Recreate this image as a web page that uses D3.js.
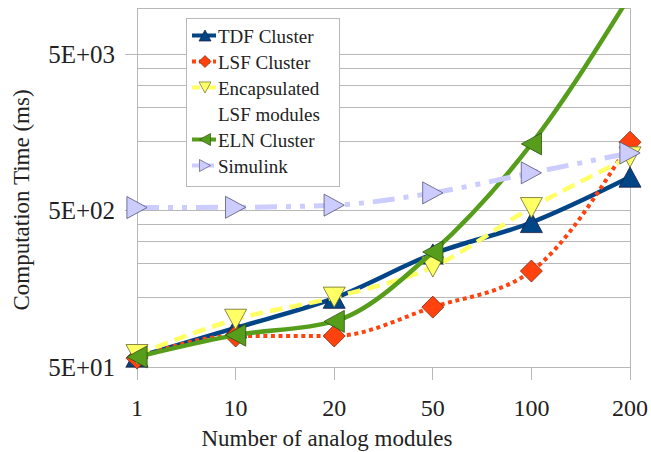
<!DOCTYPE html>
<html>
<head>
<meta charset="utf-8">
<script src="https://cdn.jsdelivr.net/npm/d3@7"></script>
<style>
  body { margin: 0; background: #fff; }
  svg { display: block; }
  text { font-family: "Liberation Serif", "DejaVu Serif", serif; fill: #222; }
</style>
</head>
<body>
<svg id="chart" width="651" height="452"></svg>
<script>
// ---- data ----
const categories = ["1", "10", "20", "50", "100", "200"];
const tdfCluster = [58, 89, 138, 265, 422, 825];
const lsfCluster = [57, 79, 79, 121, 206, 1380];
const encapsulatedLsf = [60, 101, 140, 219, 525, 1110];
const elnCluster = [58, 80, 98, 273, 1346, 12000];
const simulink = [526, 528, 545, 653, 878, 1177];
const seriesNames = ["TDF Cluster", "LSF Cluster", "Encapsulated LSF modules", "ELN Cluster", "Simulink"];
const legendLines = [["TDF Cluster"], ["LSF Cluster"], ["Encapsulated", "LSF modules"], ["ELN Cluster"], ["Simulink"]];
const yMajorTicks = [50, 500, 5000];
const yMinorTicks = [140, 230, 320, 410, 1400, 2300, 3200, 4100];
const yDomain = [50, 10000];

(function () {
const styles = [
  { color: "#004586", dash: null, width: 4.5, marker: "up", stroke: "#1a1a40" },
  { color: "#ff420e", dash: "4,3.6", width: 4, marker: "diamond", stroke: "#7a2a10" },
  { color: "#ffff66", dash: "13,7", width: 4.5, marker: "down", stroke: "#6b6b2a" },
  { color: "#579d1c", dash: null, width: 4.5, marker: "left", stroke: "#2e5010" },
  { color: "#ccccff", dash: "22,9,5,9,5,9", width: 5, marker: "right", stroke: "#55557a" }
];
const values = [tdfCluster, lsfCluster, encapsulatedLsf, elnCluster, simulink];

const svg = d3.select("#chart");
const pL = 137, pR = 630, pT = 8, pB = 367;

const x = d3.scalePoint().domain(categories).range([pL, pR]).padding(0);
const y = d3.scaleLog().domain(yDomain).range([pB, pT]);

const grid = "#b8b8b8";

svg.append("g").selectAll("line").data(yMinorTicks.concat(yMajorTicks)).join("line")
  .attr("x1", pL).attr("x2", pR)
  .attr("y1", d => y(d)).attr("y2", d => y(d))
  .attr("stroke", grid).attr("stroke-width", 1).attr("shape-rendering", "crispEdges");

svg.append("g").selectAll("line").data(yMajorTicks).join("line")
  .attr("x1", pL - 12).attr("x2", pL)
  .attr("y1", d => y(d)).attr("y2", d => y(d))
  .attr("stroke", grid).attr("stroke-width", 1).attr("shape-rendering", "crispEdges");

svg.append("rect").attr("x", pL).attr("y", pT)
  .attr("width", pR - pL).attr("height", pB - pT)
  .attr("fill", "none").attr("stroke", grid).attr("stroke-width", 1).attr("shape-rendering", "crispEdges");

svg.append("g").selectAll("line").data(categories).join("line")
  .attr("x1", d => x(d)).attr("x2", d => x(d))
  .attr("y1", pB).attr("y2", pB + 13)
  .attr("stroke", grid).attr("stroke-width", 1).attr("shape-rendering", "crispEdges");

function fmtE(v) {
  const e = Math.floor(Math.log10(v));
  const m = Math.round(v / Math.pow(10, e));
  const s = e >= 0 ? "+" : "-";
  return m + "E" + s + String(Math.abs(e)).padStart(2, "0");
}
svg.append("g").selectAll("text").data(yMajorTicks).join("text")
  .attr("x", 115).attr("y", d => y(d)).attr("dy", "0.34em")
  .attr("text-anchor", "end").attr("font-size", 25)
  .text(fmtE);

svg.append("g").selectAll("text").data(categories).join("text")
  .attr("x", d => x(d)).attr("y", 416)
  .attr("text-anchor", "middle").attr("font-size", 24)
  .text(d => d);

svg.append("text").attr("x", 327).attr("y", 446)
  .attr("text-anchor", "middle").attr("font-size", 23)
  .text("Number of analog modules");
svg.append("text").attr("transform", "translate(29,200) rotate(-90)")
  .attr("text-anchor", "middle").attr("font-size", 23)
  .text("Computation Time (ms)");

svg.append("defs").append("clipPath").attr("id", "plotclip")
  .append("rect").attr("x", pL - 20).attr("y", pT).attr("width", pR - pL + 40).attr("height", pB - pT + 20);

function markerPath(type, r) {
  const h = r * 0.92;
  switch (type) {
    case "up": return `M0,${-h}L${r},${h}L${-r},${h}Z`;
    case "down": return `M${-r},${-h}L${r},${-h}L0,${h}Z`;
    case "left": return `M${-h},0L${h},${-r}L${h},${r}Z`;
    case "right": return `M${-h},${-r}L${h},0L${-h},${r}Z`;
    case "diamond": return `M0,${-r}L${r},0L0,${r}L${-r},0Z`;
  }
}

const line = d3.line()
  .x((d, i) => x(categories[i]))
  .y(d => y(d))
  .curve(d3.curveMonotoneX);

const plot = svg.append("g").attr("clip-path", "url(#plotclip)");
values.forEach((vals, si) => {
  const st = styles[si];
  const g = plot.append("g");
  g.append("path").datum(vals)
    .attr("d", line)
    .attr("fill", "none")
    .attr("stroke", st.color)
    .attr("stroke-width", st.width)
    .attr("stroke-dasharray", st.dash)
    .attr("stroke-linejoin", "round");
  g.selectAll("path.m").data(vals.map((v, i) => ({ v, c: categories[i] })).filter(d => d.v <= yDomain[1]))
    .join("path").attr("class", "m")
    .attr("transform", d => `translate(${x(d.c)},${y(d.v)})`)
    .attr("d", markerPath(st.marker, 11))
    .attr("fill", st.color)
    .attr("stroke", st.stroke).attr("stroke-width", 0.8);
});

const lg = svg.append("g");
lg.append("rect").attr("x", 186.5).attr("y", 18.5).attr("width", 153).attr("height", 168)
  .attr("fill", "#fff").attr("stroke", grid).attr("stroke-width", 1);
let baseline = 43;
const lineH = 26;
legendLines.forEach((lines, si) => {
  const st = styles[si];
  const sy = baseline - 7.5;
  lg.append("line").attr("x1", 192).attr("x2", 216).attr("y1", sy).attr("y2", sy)
    .attr("stroke", st.color).attr("stroke-width", 4)
    .attr("stroke-dasharray", st.dash ? (si === 1 ? "4,3" : (si === 2 ? "8,8" : "7,3,2,3")) : null);
  lg.append("path").attr("transform", `translate(205,${sy})`)
    .attr("d", markerPath(st.marker, 6))
    .attr("fill", st.color).attr("stroke", st.stroke).attr("stroke-width", 0.7);
  lines.forEach((t, li) => {
    lg.append("text").attr("x", 218).attr("y", baseline + li * lineH)
      .attr("font-size", 19).text(t);
  });
  baseline += lines.length * lineH;
});
})();
</script>
</body>
</html>
